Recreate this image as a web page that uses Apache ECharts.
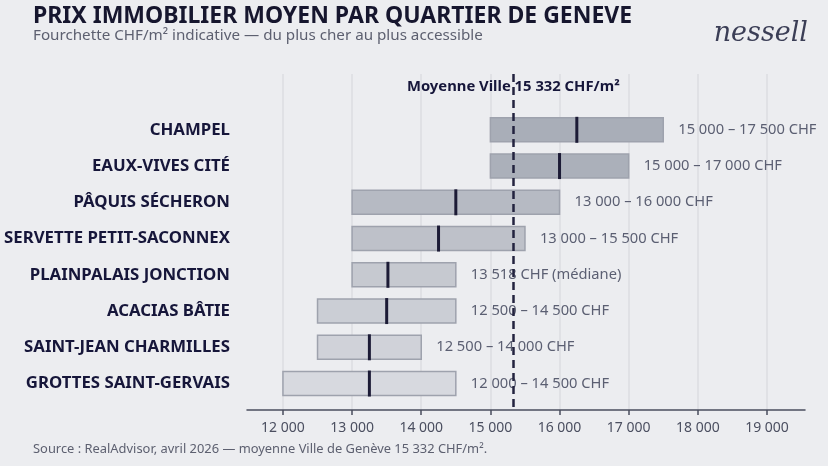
<!DOCTYPE html>
<html>
<head>
<meta charset="utf-8">
<script src="https://cdn.jsdelivr.net/npm/echarts@6/dist/echarts.min.js"></script>
<style>
  html, body { margin: 0; padding: 0; background: #ecedf0; }
  #chart { width: 828px; height: 466px; }
</style>
</head>
<body>
<div id="chart"></div>
<script>
// quartiers, du plus cher au plus accessible
const quartiers = ['CHAMPEL', 'EAUX-VIVES CITÉ', 'PÂQUIS SÉCHERON', 'SERVETTE PETIT-SACONNEX',
  'PLAINPALAIS JONCTION', 'ACACIAS BÂTIE', 'SAINT-JEAN CHARMILLES', 'GROTTES SAINT-GERVAIS'];
const prixMin = [15000, 15000, 13000, 13000, 13000, 12500, 12500, 12000];
const prixMax = [17500, 17000, 16000, 15500, 14500, 14500, 14000, 14500];
const mediane = [16250, 16000, 14500, 14250, 13518, 13500, 13250, 13250];
const etiquettes = ['15 000 – 17 500 CHF', '15 000 – 17 000 CHF', '13 000 – 16 000 CHF', '13 000 – 15 500 CHF',
  '13 518 CHF (médiane)', '12 500 – 14 500 CHF', '12 500 – 14 000 CHF', '12 000 – 14 500 CHF'];
const couleurs = ['#a9aeb8', '#abb0ba', '#b6bac3', '#bec1c9', '#c6c9d0', '#cbced5', '#d0d2d9', '#d7d9df'];
const moyenneVille = 15332;
const xTicks = [12000, 13000, 14000, 15000, 16000, 17000, 18000, 19000];

const fmt = v => String(v).replace(/\B(?=(\d{3})+(?!\d))/g, ' ');

const chart = echarts.init(document.getElementById('chart'));

const data = quartiers.map((q, i) => [i, prixMin[i], prixMax[i], mediane[i]]);

function renderItem(params, api) {
  const i = api.value(0);
  const lo = api.coord([api.value(1), i]);
  const hi = api.coord([api.value(2), i]);
  const md = api.coord([api.value(3), i]);
  const h = 24;
  return {
    type: 'group',
    children: [
      {
        type: 'rect',
        shape: { x: lo[0], y: lo[1] - h / 2, width: hi[0] - lo[0], height: h },
        style: { fill: couleurs[i], stroke: '#9ea2ad', lineWidth: 1.5 }
      },
      {
        type: 'line',
        shape: { x1: md[0], y1: md[1] - h / 2 - 1, x2: md[0], y2: md[1] + h / 2 + 1 },
        style: { stroke: '#1c1b36', lineWidth: 3 }
      },
      {
        type: 'text',
        x: hi[0] + 15,
        y: hi[1],
        style: {
          text: etiquettes[i], fill: '#5b5f72', font: '14.7px "Noto Sans"',
          verticalAlign: 'middle', align: 'left'
        }
      }
    ]
  };
}

const option = {
  backgroundColor: '#ecedf0',
  animation: false,
  title: {
    text: 'PRIX IMMOBILIER MOYEN PAR QUARTIER DE GENEVE',
    subtext: 'Fourchette CHF/m² indicative — du plus cher au plus accessible',
    left: 28, top: 0, itemGap: 0,
    textStyle: { fontFamily: 'Noto Sans', fontSize: 23, fontWeight: 'bold', color: '#16162e' },
    subtextStyle: { fontFamily: 'Noto Sans', fontSize: 15.2, color: '#5d6070' }
  },
  grid: { left: 247, right: 23, top: 74, bottom: 56, outerBoundsMode: 'none' },
  xAxis: {
    type: 'value',
    min: 11480,
    max: 19550,
    axisLine: { show: true, onZero: false, lineStyle: { color: '#4a4d5e', width: 1.5 } },
    axisTick: { show: true, customValues: xTicks, length: 5, lineStyle: { color: '#4a4d5e', width: 1.5 } },
    axisLabel: {
      customValues: xTicks, formatter: v => fmt(v), margin: 11,
      fontFamily: 'Noto Sans', fontSize: 14, color: '#4b4f60'
    },
    splitLine: { show: true, lineStyle: { color: '#dcdde2', width: 1.5 } }
  },
  yAxis: {
    type: 'value',
    inverse: true,
    min: -1.54,
    max: 7.73,
    axisLine: { show: false },
    axisTick: { show: false },
    splitLine: { show: false },
    axisLabel: {
      customValues: [0, 1, 2, 3, 4, 5, 6, 7],
      formatter: v => quartiers[Math.round(v)],
      margin: 17,
      fontFamily: 'Noto Sans', fontSize: 16.8, fontWeight: 'bold', color: '#16163a'
    }
  },
  series: [{
    type: 'custom',
    renderItem: renderItem,
    encode: { x: [1, 2, 3], y: 0 },
    data: data,
    z: 2,
    markLine: {
      silent: true,
      symbol: ['none', 'none'],
      z: 5,
      lineStyle: { color: '#23233f', type: [8, 5], width: 2.5 },
      label: {
        show: true, position: 'start', distance: 0, offset: [0, 20],
        formatter: 'Moyenne Ville 15 332 CHF/m²',
        fontFamily: 'Noto Sans', fontSize: 14.8, fontWeight: 'bold', color: '#16163a'
      },
      data: [{ xAxis: moyenneVille }]
    }
  }],
  graphic: [
    {
      type: 'text', left: 33, top: 443,
      style: {
        text: 'Source : RealAdvisor, avril 2026 — moyenne Ville de Genève 15 332 CHF/m².',
        fill: '#5d6070', font: '12.9px "Noto Sans"'
      }
    },
    {
      type: 'text', right: 20, top: 20,
      style: {
        text: 'nessell', fill: '#3b3e56', font: 'italic 27px "DejaVu Serif"'
      }
    }
  ]
};

chart.setOption(option);
</script>
</body>
</html>
